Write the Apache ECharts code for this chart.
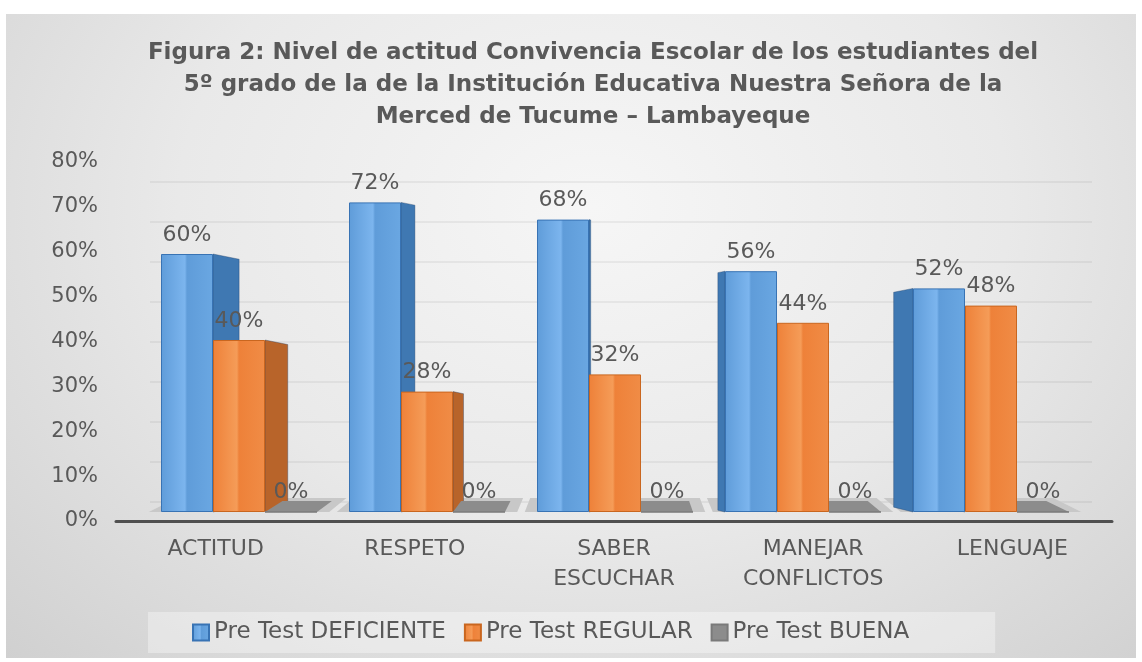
<!DOCTYPE html>
<html>
<head>
<meta charset="utf-8">
<script src="https://cdn.jsdelivr.net/npm/echarts@6/dist/echarts.min.js"></script>
<style>
  html, body { margin: 0; padding: 0; background: #fff; }
  #frame {
    position: absolute; left: 6px; top: 14px; width: 1130px; height: 644px;
    background: radial-gradient(ellipse at 52% 30%, #f6f6f6 0%, #e9e9e9 50%, #d0d0d0 100%);
  }
  #main { position: absolute; left: 0; top: 0; width: 1142px; height: 662px; }
</style>
</head>
<body>
<div id="frame"></div>
<div id="main"></div>
<script>
// datos del grafico
var categorias = ['ACTITUD', 'RESPETO', 'SABER\nESCUCHAR', 'MANEJAR\nCONFLICTOS', 'LENGUAJE'];
var deficiente = [60, 72, 68, 56, 52];
var regular = [40, 28, 32, 44, 48];
var buena = [0, 0, 0, 0, 0];
var nombres = ['Pre Test DEFICIENTE', 'Pre Test REGULAR', 'Pre Test BUENA'];
var ticksY = [0, 10, 20, 30, 40, 50, 60, 70, 80];

var BAR_W = 52;
var K = 0.065; // profundidad lateral (efecto 3D)
var gris = '#595959';
var fuente = 'DejaVu Sans';

var chart = echarts.init(document.getElementById('main'));

// caras laterales de las barras (efecto 3D)
function lado(params, api) {
  var i = api.value(0), v = api.value(1), s = api.value(2);
  var top = api.coord([i, v]);
  var base = api.coord([i, 0]);
  var cs = params.coordSys;
  var mid = cs.x + cs.width / 2;
  var xl = top[0] - 1.5 * BAR_W + s * BAR_W;
  var xr = xl + BAR_W;
  var colores = ['#3f78b2', '#b8642a', '#6f6f6f'];
  if (!v) {
    // baldosa del valor cero
    var sh1 = (mid - xl) * 0.05, sh2 = (mid - xr) * 0.05;
    return {
      type: 'polygon',
      shape: { points: [[xl, base[1]], [xr, base[1]], [xr + sh2, base[1] - 11], [xl + sh1, base[1] - 11]] },
      style: { fill: '#8c8c8c' }
    };
  }
  var pts;
  if (xr <= mid) {
    var d = (mid - xr) * K;
    pts = [[xr, top[1]], [xr + d, top[1] + d * 0.2], [xr + d, base[1] - d * 0.25], [xr, base[1]]];
  } else if (xl >= mid) {
    var d2 = (xl - mid) * K;
    pts = [[xl, top[1]], [xl - d2, top[1] + d2 * 0.2], [xl - d2, base[1] - d2 * 0.25], [xl, base[1]]];
  } else {
    return;
  }
  return {
    type: 'polygon',
    shape: { points: pts },
    style: { fill: colores[s], stroke: 'rgba(30,60,100,0.35)', lineWidth: 1 }
  };
}

// piso de cada categoria
function piso(params, api) {
  var i = api.value(0);
  var c = api.coord([i, 0]);
  var w = api.size([1, 0])[0] * 0.48;
  var cs = params.coordSys;
  var mid = cs.x + cs.width / 2;
  var xl = c[0] - w, xr = c[0] + w;
  return {
    type: 'polygon',
    shape: { points: [[xl, c[1]], [xr, c[1]], [xr + (mid - xr) * 0.06, c[1] - 14], [xl + (mid - xl) * 0.06, c[1] - 14]] },
    style: { fill: '#c8c8c8' }
  };
}

var datosLado = [];
[deficiente, regular, buena].forEach(function (serie, s) {
  serie.forEach(function (v, i) { datosLado.push([i, v, s]); });
});

function frente(c1, c2, c3) {
  return new echarts.graphic.LinearGradient(0, 0, 1, 0, [
    { offset: 0, color: c1 }, { offset: 0.46, color: c2 },
    { offset: 0.5, color: c1 }, { offset: 1, color: c3 }
  ]);
}

var etiqueta = {
  show: true, position: 'top', distance: 8,
  formatter: '{c}%', color: gris, fontSize: 22, fontFamily: fuente
};

var option = {
  backgroundColor: 'transparent',
  title: {
    text: 'Figura 2: Nivel de actitud Convivencia Escolar de los estudiantes del\n5º grado de la de la Institución Educativa Nuestra Señora de la\nMerced de Tucume – Lambayeque',
    left: 588, top: 32, textAlign: 'center',
    textStyle: { fontFamily: fuente, fontWeight: 'bold', fontSize: 23, lineHeight: 32, color: gris }
  },
  legend: {
    data: nombres,
    left: 148, top: 612,
    padding: [9, 86, 9, 44],
    backgroundColor: 'rgba(255,255,255,0.35)',
    itemWidth: 16, itemHeight: 16, itemGap: 18,
    icon: 'rect',
    textStyle: { fontFamily: fuente, fontSize: 23, color: gris }
  },
  grid: [
    { left: 145, right: 57, top: 168, bottom: 150 },
    { left: 116, right: 30, top: 162, bottom: 141 },
    { left: 150, right: 50, top: 182, bottom: 160 }
  ],
  xAxis: [
    { type: 'category', gridIndex: 0, data: categorias, show: false },
    {
      type: 'category', gridIndex: 1, data: categorias,
      axisLine: { lineStyle: { color: '#505050', width: 3 } },
      axisTick: { show: false },
      axisLabel: { color: gris, fontSize: 22, fontFamily: fuente, lineHeight: 30, margin: 13 }
    },
    { type: 'category', gridIndex: 2, data: categorias, show: false }
  ],
  yAxis: [
    { type: 'value', gridIndex: 0, min: 0, max: 80, interval: 10, show: false },
    {
      type: 'value', gridIndex: 1, min: ticksY[0], max: ticksY[ticksY.length - 1], interval: 10,
      axisLine: { show: false }, axisTick: { show: false }, splitLine: { show: false },
      axisLabel: { formatter: '{value}%', color: gris, fontSize: 21, fontFamily: fuente, margin: 18 }
    },
    {
      type: 'value', gridIndex: 2, min: 0, max: 80, interval: 10,
      axisLine: { show: false }, axisTick: { show: false }, axisLabel: { show: false },
      splitLine: { lineStyle: { color: 'rgba(0,0,0,0.05)', width: 2 } }
    }
  ],
  series: [
    {
      type: 'custom', name: 'piso', xAxisIndex: 0, yAxisIndex: 0, z: 1,
      renderItem: piso, silent: true,
      data: categorias.map(function (c, i) { return [i]; })
    },
    {
      type: 'custom', name: 'lados', xAxisIndex: 0, yAxisIndex: 0, z: 2,
      renderItem: lado, silent: true,
      data: datosLado
    },
    {
      name: nombres[0], type: 'bar', xAxisIndex: 0, yAxisIndex: 0, z: 3,
      barWidth: BAR_W, barGap: '0%',
      data: deficiente,
      itemStyle: { color: frente('#5f9cd9', '#7cb5ee', '#6aa7e2'), borderColor: '#3873b4', borderWidth: 1 },
      label: etiqueta
    },
    {
      name: nombres[1], type: 'bar', xAxisIndex: 0, yAxisIndex: 0, z: 3,
      barWidth: BAR_W, barGap: '0%',
      data: regular,
      itemStyle: { color: frente('#ee8139', '#f59c58', '#f08c46'), borderColor: '#c9661f', borderWidth: 1 },
      label: etiqueta
    },
    {
      name: nombres[2], type: 'bar', xAxisIndex: 0, yAxisIndex: 0, z: 3,
      barWidth: BAR_W, barGap: '0%',
      data: buena,
      itemStyle: { color: '#8c8c8c', borderColor: '#7a7a7a', borderWidth: 1 },
      label: etiqueta
    }
  ]
};

chart.setOption(option);
</script>
</body>
</html>
